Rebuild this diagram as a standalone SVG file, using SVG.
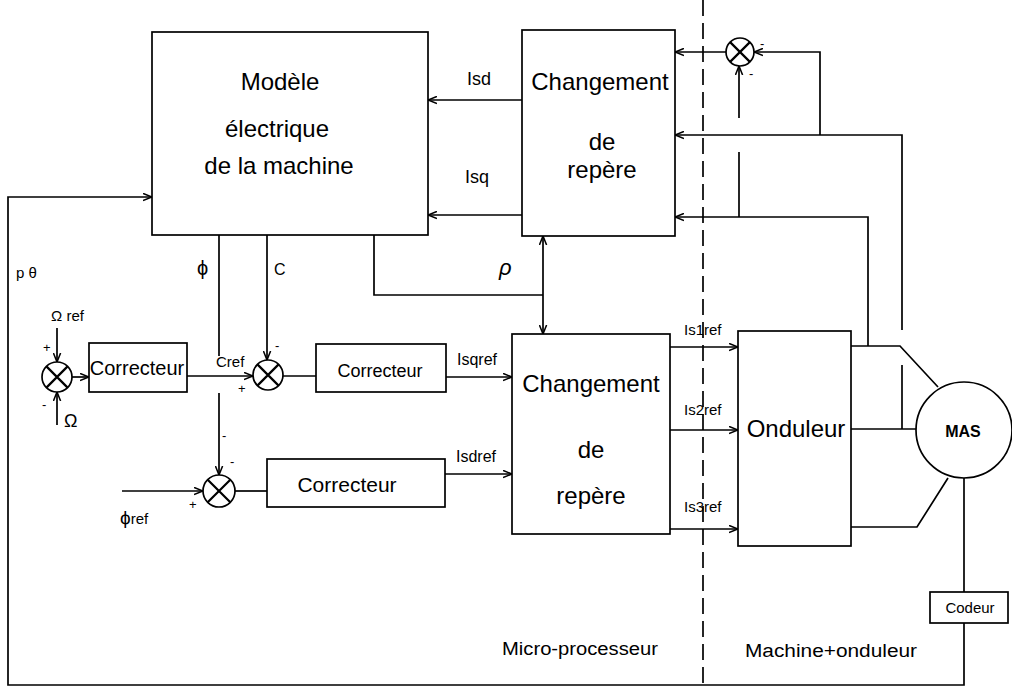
<svg xmlns="http://www.w3.org/2000/svg" width="1012" height="689" viewBox="0 0 1012 689">
<defs>
<marker id="arr" viewBox="0 0 10 10" refX="10" refY="5" markerWidth="9" markerHeight="9" markerUnits="userSpaceOnUse" orient="auto-start-reverse">
<path d="M0,1 L10,5 L0,9" fill="none" stroke="#000" stroke-width="1.7"/>
</marker>
</defs>
<style>
text{font-family:"Liberation Sans",Arial,sans-serif;fill:#000}
.box{fill:#fff;stroke:#000;stroke-width:1.7}
.ln{fill:none;stroke:#000;stroke-width:1.7}
.a{marker-end:url(#arr)}
.big{font-size:24px;text-anchor:middle}
.sgn{font-size:13px}
.cmp circle{fill:#fff;stroke:#000;stroke-width:1.7}
.cmp path{stroke:#000;stroke-width:2.2;fill:none}
</style>
<rect width="1012" height="689" fill="#fff"/>

<g id="connectors">
<line class="ln" x1="703" y1="0" x2="703" y2="689" stroke-dasharray="16 7" stroke-width="1.4"/>
<polyline class="ln a" points="964,623 964,685 8,685 8,197 152,197"/>
<line class="ln a" x1="522" y1="100" x2="428" y2="100"/>
<line class="ln a" x1="522" y1="215" x2="428" y2="215"/>
<polyline class="ln" points="374,235 374,295 543,295"/>
<line class="ln a" x1="543" y1="285" x2="543" y2="236"/>
<line class="ln a" x1="543" y1="285" x2="543" y2="334"/>
<line class="ln a" x1="726" y1="52" x2="675" y2="52"/>
<polyline class="ln a" points="820,135 820,52 754,52"/>
<polyline class="ln a" points="902,330 902,135 675,135"/>
<line class="ln" x1="902" y1="365" x2="902" y2="429"/>
<line class="ln a" x1="739" y1="118" x2="739" y2="66"/>
<line class="ln" x1="739" y1="152" x2="739" y2="217"/>
<polyline class="ln a" points="868,346 868,217 675,217"/>
<line class="ln" x1="219" y1="235" x2="219" y2="356"/>
<line class="ln a" x1="219" y1="393" x2="219" y2="475"/>
<line class="ln a" x1="267" y1="235" x2="267" y2="360"/>
<line class="ln a" x1="57" y1="328" x2="57" y2="362"/>
<line class="ln a" x1="57" y1="425" x2="57" y2="392"/>
<line class="ln a" x1="72" y1="377" x2="89" y2="377"/>
<line class="ln a" x1="187" y1="376" x2="253" y2="376"/>
<line class="ln" x1="283" y1="376" x2="316" y2="376"/>
<line class="ln a" x1="446" y1="377" x2="512" y2="377"/>
<line class="ln a" x1="122" y1="491" x2="203" y2="491"/>
<line class="ln" x1="235" y1="491" x2="267" y2="491"/>
<line class="ln a" x1="445" y1="474" x2="512" y2="474"/>
<line class="ln a" x1="670" y1="347" x2="738" y2="347"/>
<line class="ln a" x1="670" y1="430" x2="738" y2="430"/>
<line class="ln a" x1="670" y1="529" x2="738" y2="529"/>
<polyline class="ln" points="851,346 900,346 938,387"/>
<line class="ln" x1="851" y1="429" x2="916" y2="429"/>
<polyline class="ln" points="851,527 917,527 948,478"/>
<line class="ln" x1="964" y1="478" x2="964" y2="592"/>
</g>

<g id="modele">
<rect class="box" x="152" y="32" width="276" height="203"/>
<text class="big" x="280" y="90">Modèle</text>
<text class="big" x="277" y="137">électrique</text>
<text class="big" x="279" y="174">de la machine</text>
</g>

<g id="changement-haut">
<rect class="box" x="522" y="30" width="153" height="206"/>
<text class="big" x="600" y="90">Changement</text>
<text class="big" x="602" y="150">de</text>
<text class="big" x="602" y="178">repère</text>
</g>

<g id="changement-bas">
<rect class="box" x="512" y="334" width="158" height="200"/>
<text class="big" x="591" y="392">Changement</text>
<text class="big" x="591" y="458">de</text>
<text class="big" x="591" y="504">repère</text>
</g>

<g id="onduleur">
<rect class="box" x="738" y="331" width="113" height="215"/>
<text class="big" x="796" y="437">Onduleur</text>
</g>

<g id="mas">
<circle cx="964" cy="430" r="48" fill="#fff" stroke="#000" stroke-width="1.7"/>
<text x="963" y="437" font-size="16" font-weight="bold" text-anchor="middle">MAS</text>
</g>

<g id="codeur">
<rect class="box" x="930" y="592" width="78" height="31"/>
<text x="970" y="613" font-size="15" text-anchor="middle">Codeur</text>
</g>

<g id="correcteur1">
<rect class="box" x="89" y="343" width="98" height="49"/>
<text x="137" y="375" font-size="20" text-anchor="middle">Correcteur</text>
</g>

<g id="correcteur2">
<rect class="box" x="316" y="344" width="130" height="48"/>
<text x="380" y="377" font-size="18" text-anchor="middle">Correcteur</text>
</g>

<g id="correcteur3">
<rect class="box" x="267" y="459" width="178" height="48"/>
<text x="347" y="492" font-size="21" text-anchor="middle">Correcteur</text>
</g>

<g id="comparateur-vitesse" class="cmp">
<circle cx="57" cy="377" r="15"/>
<path d="M46.4,366.4 L67.6,387.6 M67.6,366.4 L46.4,387.6"/>
</g>

<g id="comparateur-couple" class="cmp">
<circle cx="268" cy="375" r="15"/>
<path d="M257.4,364.4 L278.6,385.6 M278.6,364.4 L257.4,385.6"/>
</g>

<g id="comparateur-flux" class="cmp">
<circle cx="219" cy="491" r="16"/>
<path d="M207.7,479.7 L230.3,502.3 M230.3,479.7 L207.7,502.3"/>
</g>

<g id="comparateur-courant" class="cmp">
<circle cx="740" cy="52" r="14"/>
<path d="M730.1,42.1 L749.9,61.9 M749.9,42.1 L730.1,61.9"/>
</g>

<g id="labels">
<text x="467" y="85" font-size="18">Isd</text>
<text x="465" y="183" font-size="18">Isq</text>
<text x="197" y="275" font-size="20">ϕ</text>
<text x="274" y="275" font-size="16">C</text>
<text x="16" y="278" font-size="15">p θ</text>
<text x="499" y="275" font-size="22" font-style="italic">ρ</text>
<text x="51" y="321" font-size="15">Ω ref</text>
<text x="64" y="427" font-size="18">Ω</text>
<text x="216" y="367" font-size="15">Cref</text>
<text x="457" y="365" font-size="16">Isqref</text>
<text x="456" y="462" font-size="16">Isdref</text>
<text x="120" y="524" font-size="15"><tspan font-size="19">ϕ</tspan>ref</text>
<text x="684" y="335" font-size="15">Is1ref</text>
<text x="684" y="415" font-size="15">Is2ref</text>
<text x="684" y="512" font-size="15">Is3ref</text>
<text class="sgn" x="43" y="352">+</text>
<text class="sgn" x="42" y="409">-</text>
<text class="sgn" x="275" y="350">-</text>
<text class="sgn" x="238" y="393">+</text>
<text class="sgn" x="230" y="466">-</text>
<text class="sgn" x="222" y="440">-</text>
<text class="sgn" x="189" y="509">+</text>
<text class="sgn" x="760" y="48">-</text>
<text class="sgn" x="749" y="78">-</text>
<text x="580" y="655" font-size="18" text-anchor="middle" textLength="156" lengthAdjust="spacingAndGlyphs">Micro-processeur</text>
<text x="831" y="657" font-size="18" text-anchor="middle" textLength="172" lengthAdjust="spacingAndGlyphs">Machine+onduleur</text>
</g>
</svg>
